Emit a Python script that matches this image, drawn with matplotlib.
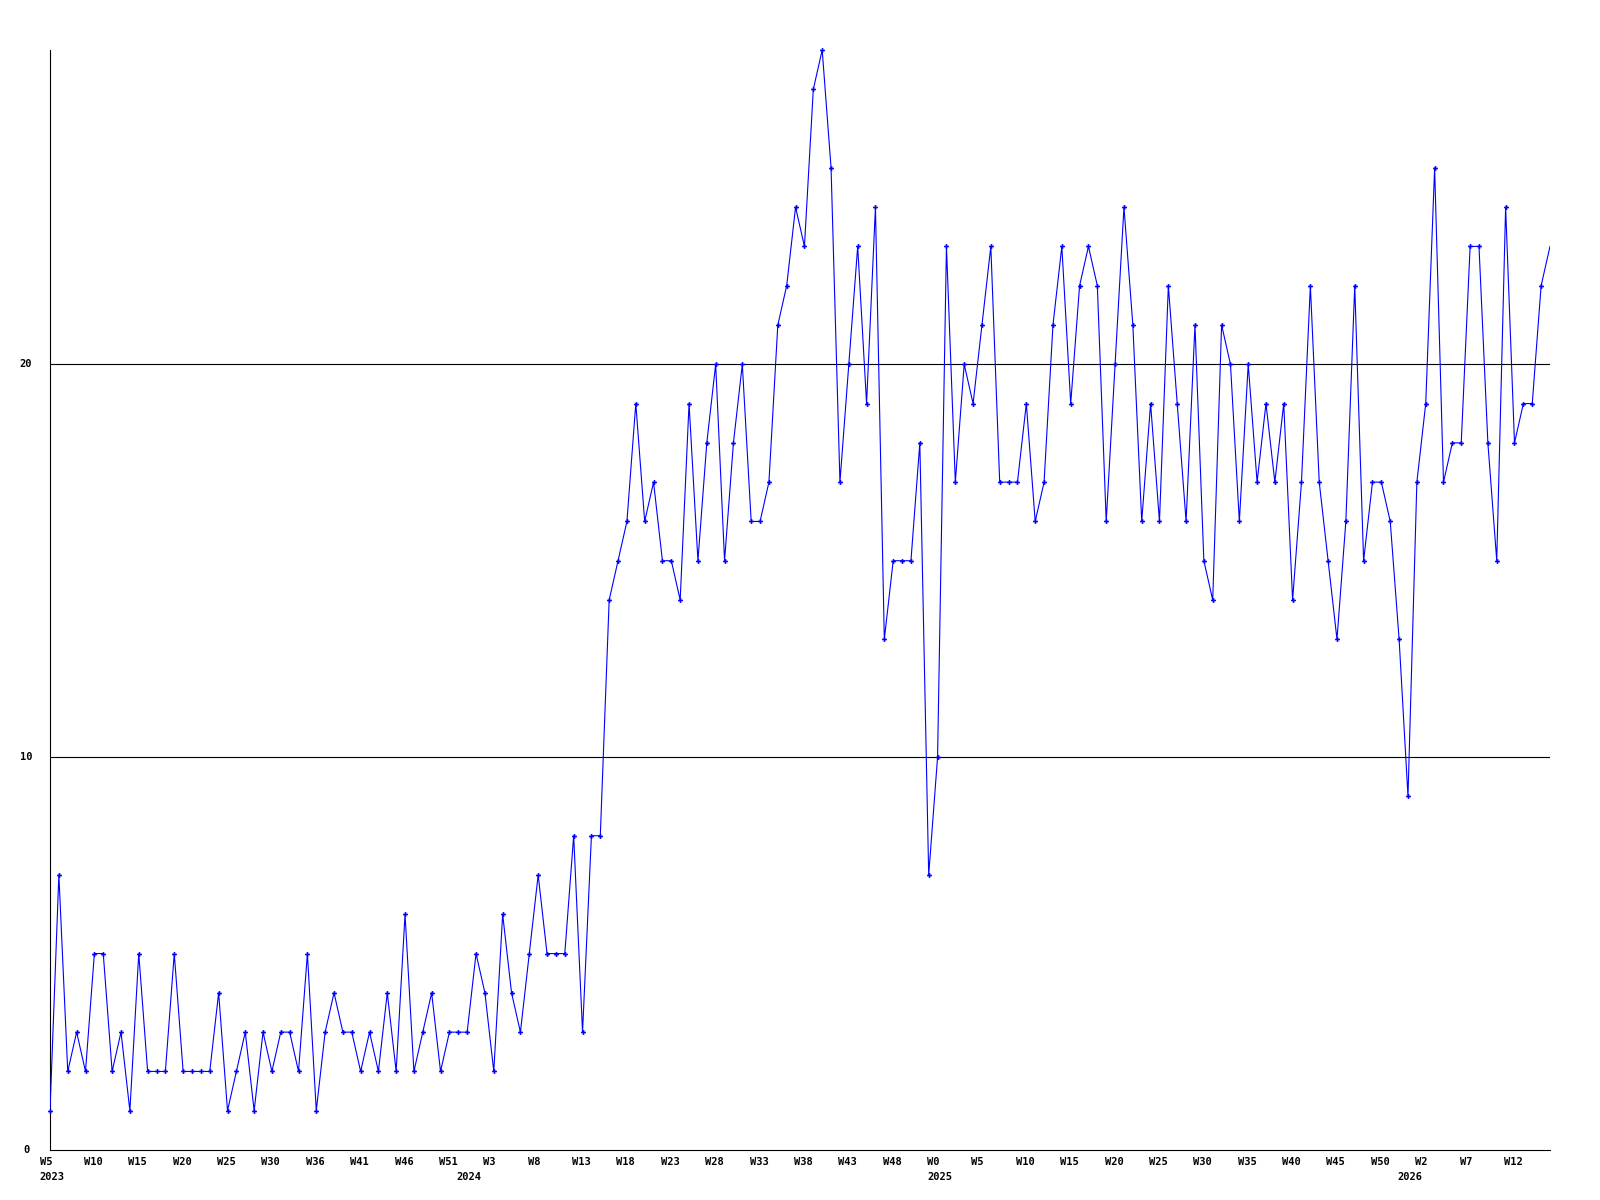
import matplotlib
matplotlib.use("Agg")
import matplotlib.pyplot as plt

values = [1, 7, 2, 3, 2, 5, 5, 2, 3, 1, 5, 2, 2, 2, 5, 2, 2, 2, 2, 4, 1, 2, 3, 1, 3, 2, 3, 3, 2, 5,
          1, 3, 4, 3, 3, 2, 3, 2, 4, 2, 6, 2,
          3, 4, 2, 3, 3, 3, 5, 4, 2, 6, 4, 3, 5, 7, 5, 5, 5, 8, 3, 8, 8,
          14, 15, 16, 19, 16, 17, 15, 15, 14, 19, 15, 18, 20, 15, 18, 20, 16, 16, 17,
          21, 22, 24, 23, 27, 28, 25,
          17, 20, 23, 19, 24, 13, 15, 15, 15, 18, 7, 10, 23, 17, 20, 19, 21, 23, 17, 17,
          17, 19, 16, 17, 21, 23, 19, 22, 23, 22, 16, 20, 24, 21, 16, 19, 16, 22, 19, 16,
          21, 15, 14, 21, 20, 16, 20, 17,
          19, 17, 19, 14, 17, 22, 17, 15, 13, 16, 22, 15, 17, 17, 16, 13, 9, 17, 19, 25,
          17, 18, 18, 23, 23, 18, 15, 24, 18, 19, 19, 22, 23]

week_labels = ["W5", "W10", "W15", "W20", "W25", "W30", "W36", "W41", "W46", "W51",
               "W3", "W8", "W13", "W18", "W23", "W28", "W33", "W38", "W43", "W48",
               "W0", "W5", "W10", "W15", "W20", "W25", "W30", "W35", "W40", "W45", "W50",
               "W2", "W7", "W12"]
week_label_step = 5
year_labels = ["2023", "2024", "2025", "2026"]
year_positions = [0, 47, 100, 153]
y_ticks = [0, 10, 20]

W, H = 1600, 1200
fig = plt.figure(figsize=(W / 100, H / 100), dpi=100)
left, right, top, bottom = 50, 1550, 50, 1150
ax = fig.add_axes([left / W, (H - bottom) / H, (right - left) / W, (bottom - top) / H])

x = list(range(len(values)))
ax.plot(x, values, color="#0000ff", lw=0.8, clip_on=True, zorder=3)
ax.plot(x[:-1], values[:-1], linestyle="none", marker="P", ms=3.5, mew=0,
        color="#0000ff", clip_on=False, zorder=4)

ax.set_xlim(0, len(values) - 1)
ax.set_ylim(0, 28)

for g in y_ticks[1:]:
    ax.axhline(g, color="black", lw=0.8, zorder=2)

for s in ["top", "right"]:
    ax.spines[s].set_visible(False)
for s in ["left", "bottom"]:
    ax.spines[s].set_color("black")
    ax.spines[s].set_linewidth(0.8)

ax.set_xticks([])
ax.set_yticks([])

font = dict(family="DejaVu Sans Mono", weight="bold", size=7.5, color="black")

for i, lab in enumerate(week_labels):
    ax.annotate(lab, xy=(i * week_label_step, 0), xycoords=("data", "axes fraction"),
                xytext=(-10.5, -7), textcoords="offset pixels",
                ha="left", va="top", **font)

for yl, pos in zip(year_labels, year_positions):
    ax.annotate(yl, xy=(pos, 0), xycoords=("data", "axes fraction"),
                xytext=(-10.5, -22), textcoords="offset pixels",
                ha="left", va="top", **font)

for t in y_ticks:
    ax.annotate(str(t), xy=(0, t), xycoords=("axes fraction", "data"),
                xytext=(-24, 0), textcoords="offset pixels",
                ha="center", va="center", **font)

fig.savefig("out.png", dpi=100, facecolor="white")
